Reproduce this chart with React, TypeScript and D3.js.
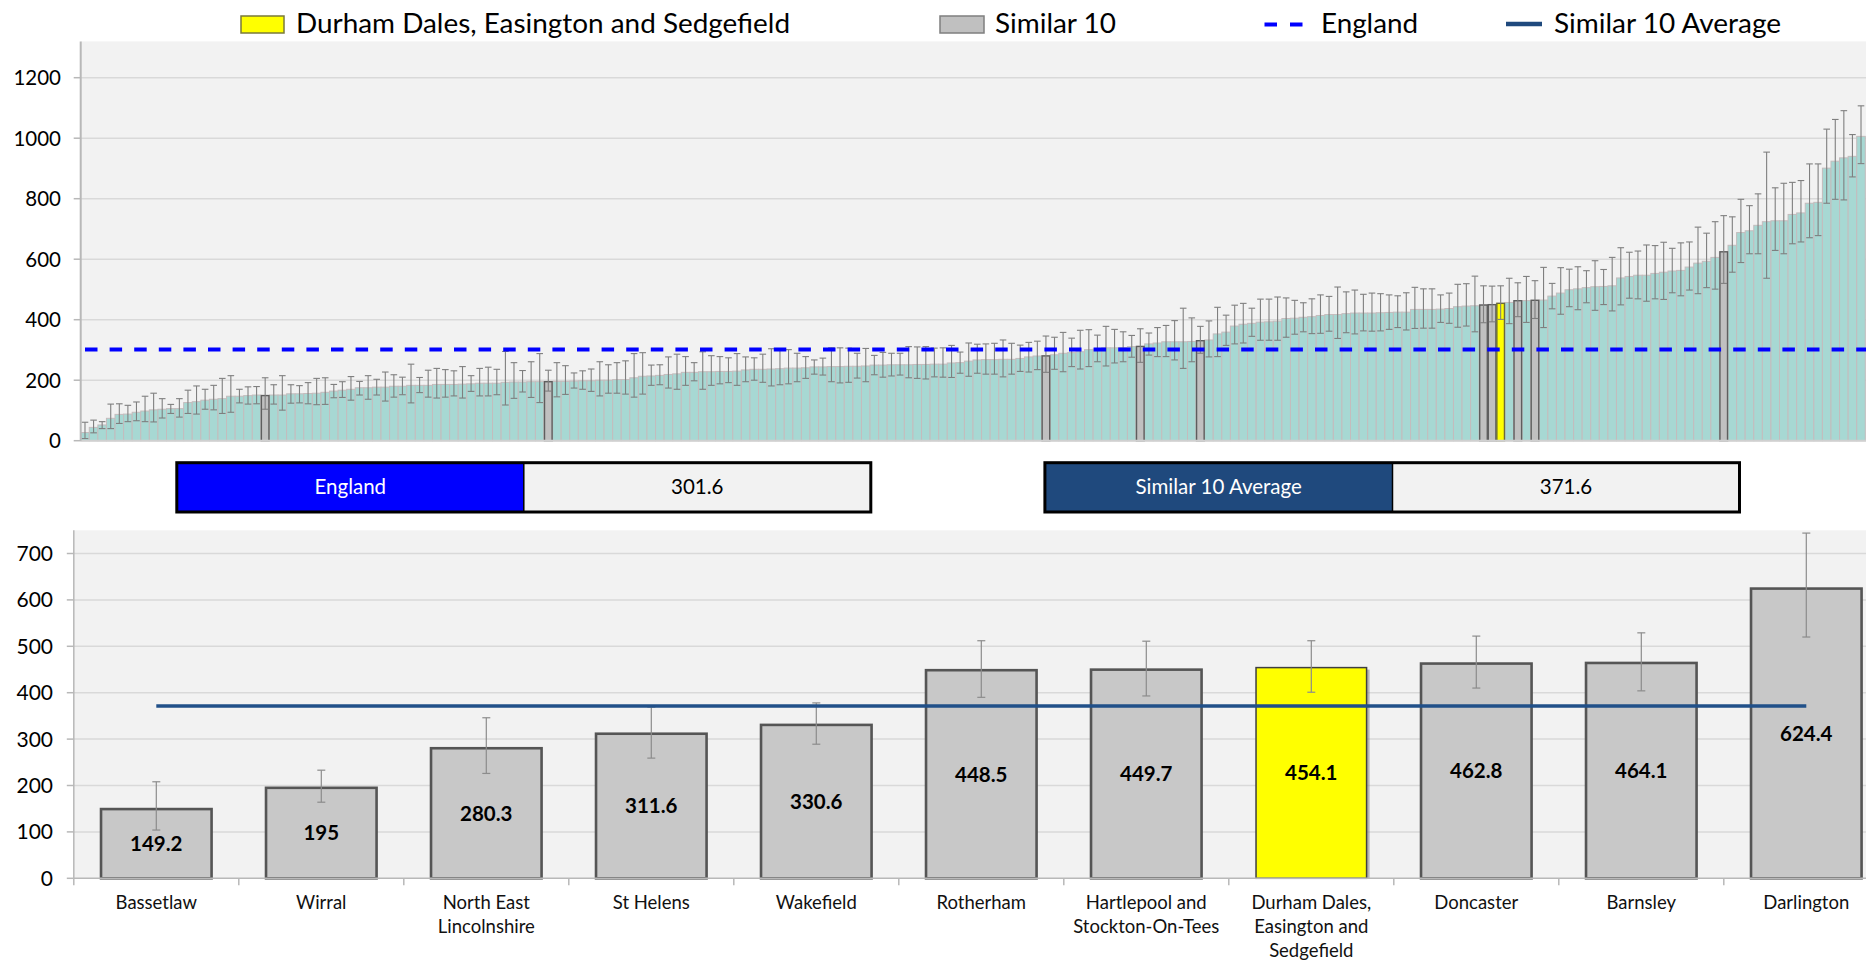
import * as d3 from "d3";

const W = 1866;
const H = 963;
const FONT = "Lato, 'Open Sans', sans-serif";

// all areas in England, sorted ascending (rate, lower CI, upper CI)
const areaValues = [
  27, 44, 52, 74, 87, 88, 94, 98, 102, 104, 106, 106, 126, 129, 134, 137, 139, 147, 147, 149,
  151, 149.2, 151, 151, 155, 155, 156, 157, 160, 164, 167, 170, 175, 175, 177, 177, 180, 180, 183, 183,
  183, 186, 186, 186, 187, 188, 190, 190, 190, 193, 194, 194, 195, 195, 195, 196, 196, 197, 198, 198,
  200, 200, 202, 202, 208, 213, 214, 216, 219, 221, 226, 226, 228, 228, 229, 229, 230, 234, 236, 236,
  237, 238, 240, 240, 241, 244, 244, 245, 245, 246, 246, 247, 250, 250, 251, 251, 251, 252, 252, 253,
  253, 257, 258, 263, 267, 268, 268, 269, 269, 272, 277, 280, 280.3, 284, 289, 291, 294, 301, 303, 307,
  307, 308, 311, 311.6, 320, 323, 327, 327, 327, 328, 330.6, 333, 353, 359, 379, 385, 388, 392, 393, 395,
  404, 405, 408, 410, 414, 417, 417, 420, 422, 422, 422, 423, 424, 425, 425, 434, 434, 434, 435, 437,
  443, 445, 446, 448.5, 449.7, 454.1, 457, 462.8, 463, 464.1, 465, 478, 488, 499, 502, 506, 509, 510, 512, 538,
  543, 547, 547, 553, 557, 561, 563, 574, 587, 593, 606, 624.4, 646, 688, 694, 712, 724, 727, 727, 748,
  753, 785, 788, 901, 924, 935, 940, 1006,
];
const areaLower = [
  7, 26, 40, 40, 57, 63, 66, 63, 62, 75, 90, 78, 90, 88, 104, 102, 90, 94, 125, 121,
  122, 104, 121, 101, 124, 125, 122, 119, 120, 142, 143, 134, 151, 137, 151, 131, 144, 152, 125, 159,
  144, 141, 144, 148, 141, 163, 148, 148, 152, 118, 140, 161, 143, 126, 164, 145, 153, 174, 170, 163,
  148, 157, 157, 154, 144, 154, 183, 185, 174, 170, 183, 198, 170, 183, 188, 192, 183, 195, 200, 193,
  181, 185, 188, 195, 206, 220, 217, 195, 191, 193, 207, 195, 218, 210, 214, 217, 208, 206, 204, 211,
  210, 209, 223, 213, 223, 220, 220, 211, 220, 229, 227, 235, 226, 236, 228, 245, 237, 245, 261, 247,
  257, 261, 276, 259, 283, 278, 278, 267, 239, 261, 289, 277, 278, 315, 320, 323, 345, 332, 332, 332,
  342, 352, 360, 354, 355, 362, 338, 357, 353, 363, 362, 363, 368, 374, 366, 371, 372, 372, 391, 388,
  375, 379, 360, 390, 393, 401, 387, 410, 391, 404, 374, 436, 418, 443, 433, 456, 431, 450, 429, 449,
  471, 469, 461, 469, 467, 489, 479, 498, 486, 506, 501, 520, 557, 589, 618, 618, 537, 629, 618, 651,
  657, 671, 678, 785, 798, 796, 872, 916,
];
const areaUpper = [
  61, 68, 63, 121, 122, 117, 128, 147, 157, 139, 120, 139, 167, 181, 170, 183, 206, 215, 170, 178,
  179, 208, 185, 215, 185, 182, 192, 206, 208, 186, 195, 212, 196, 215, 203, 227, 218, 210, 253, 209,
  233, 239, 235, 231, 245, 215, 239, 243, 236, 295, 258, 232, 261, 288, 233, 258, 248, 224, 231, 237,
  261, 251, 258, 264, 288, 291, 250, 251, 277, 286, 278, 258, 294, 281, 278, 274, 288, 277, 274, 286,
  304, 303, 301, 289, 278, 267, 273, 307, 307, 306, 289, 305, 282, 292, 289, 289, 311, 310, 311, 306,
  307, 315, 293, 323, 319, 320, 322, 333, 322, 316, 325, 329, 346, 342, 358, 339, 365, 367, 349, 378,
  368, 360, 348, 370, 356, 374, 381, 397, 438, 406, 378, 396, 441, 415, 448, 454, 438, 468, 468, 475,
  472, 464, 456, 469, 482, 477, 508, 492, 498, 484, 488, 486, 482, 479, 489, 507, 502, 502, 482, 488,
  517, 519, 544, 512, 511, 512, 537, 522, 543, 529, 573, 520, 572, 567, 575, 562, 595, 566, 606, 638,
  623, 627, 647, 645, 656, 636, 654, 657, 706, 686, 724, 744, 740, 798, 777, 816, 954, 836, 851, 854,
  860, 915, 915, 1030, 1062, 1091, 1012, 1107,
];

// the similar 10 areas plus the selected area
const similarNames = [
  "Bassetlaw",
  "Wirral",
  "North East Lincolnshire",
  "St Helens",
  "Wakefield",
  "Rotherham",
  "Hartlepool and Stockton-On-Tees",
  "Durham Dales, Easington and Sedgefield",
  "Doncaster",
  "Barnsley",
  "Darlington",
];
const similarLabelLines = [
  ["Bassetlaw"],
  ["Wirral"],
  ["North East", "Lincolnshire"],
  ["St Helens"],
  ["Wakefield"],
  ["Rotherham"],
  ["Hartlepool and", "Stockton-On-Tees"],
  ["Durham Dales,", "Easington and", "Sedgefield"],
  ["Doncaster"],
  ["Barnsley"],
  ["Darlington"],
];
const similarValues = [149.2, 195, 280.3, 311.6, 330.6, 448.5, 449.7, 454.1, 462.8, 464.1, 624.4];
const similarLower = [104, 164, 226, 259, 289, 390, 393, 401, 410, 404, 520];
const similarUpper = [208, 233, 346, 369, 378, 512, 511, 512, 522, 529, 744];
const similarRank = [21, 54, 112, 123, 130, 163, 164, 165, 167, 169, 191];
const selectedName = "Durham Dales, Easington and Sedgefield";

const englandValue = 301.6;
const similarAverage = 371.6;

const topTicks = [0, 200, 400, 600, 800, 1000, 1200];
const bottomTicks = [0, 100, 200, 300, 400, 500, 600, 700];

const TEAL = "#a7d8d3";
const GREY = "#c0c0c0";
const YELLOW = "#ffff00";
const BLUE = "#0000ff";
const NAVY = "#1f497d";

export default function App() {
  const n = areaValues.length;
  const xTop = d3.scaleBand<number>().domain(d3.range(n)).range([80.7, 1865.3]);
  const yTop = d3.scaleLinear().domain([0, 1320]).range([440.7, 41.4]);
  const bw = xTop.bandwidth();

  const xBot = d3
    .scaleBand<string>()
    .domain(similarNames)
    .range([73.8, 1888.8])
    .paddingInner(0.33)
    .paddingOuter(0.165);
  const yBot = d3.scaleLinear().domain([0, 750]).range([878.3, 530.3]);
  const bbw = xBot.bandwidth();
  const step = xBot.step();

  const topLeft = 80.7;
  const botLeft = 73.8;

  return (
    <svg
      width={W}
      height={H}
      style={{ position: "absolute", left: 0, top: 0, display: "block" }}
      fontFamily={FONT}
    >
      <rect width={W} height={H} fill="#fff" />

      {/* legend */}
      <g fontSize={26} fill="#000">
        <rect x={241} y={16} width={43} height={17} fill={YELLOW} stroke="#7a7a3a" strokeWidth={1.5} />
        <text x={296} y={33} textLength={494} lengthAdjust="spacingAndGlyphs">
          {selectedName}
        </text>
        <rect x={940} y={16} width={44} height={17} fill={GREY} stroke="#7f7f7f" strokeWidth={1.5} />
        <text x={995} y={33} textLength={121} lengthAdjust="spacingAndGlyphs">
          Similar 10
        </text>
        <line x1={1264.5} x2={1303} y1={24.5} y2={24.5} stroke={BLUE} strokeWidth={4} strokeDasharray="12.5 13" />
        <text x={1321} y={33} textLength={97} lengthAdjust="spacingAndGlyphs">
          England
        </text>
        <line x1={1506} x2={1542} y1={24} y2={24} stroke={NAVY} strokeWidth={4.5} />
        <text x={1554} y={33} textLength={227} lengthAdjust="spacingAndGlyphs">
          Similar 10 Average
        </text>
      </g>

      {/* top chart: all areas */}
      <rect
        x={topLeft}
        y={yTop(1320)}
        width={W - topLeft}
        height={yTop(0) - yTop(1320)}
        fill="#f2f2f2"
      />
      {topTicks
        .filter((t) => t > 0)
        .map((t) => (
          <line key={t} x1={topLeft} x2={W} y1={yTop(t)} y2={yTop(t)} stroke="#d9d9d9" strokeWidth={1.5} />
        ))}
      {areaValues.map((v, i) => (
        <rect
          key={i}
          x={xTop(i)}
          y={yTop(v)}
          width={bw}
          height={yTop(0) - yTop(v)}
          fill={TEAL}
          stroke="#c4bcbd"
          strokeWidth={1}
        />
      ))}
      {similarRank.map((r, k) => (
        <rect
          key={r}
          x={xTop(r)! + 0.5}
          y={yTop(similarValues[k])}
          width={bw - 1}
          height={yTop(0) - yTop(similarValues[k])}
          fill={similarNames[k] === selectedName ? YELLOW : GREY}
          stroke={similarNames[k] === selectedName ? "#6b6b3a" : "#5e5e5e"}
          strokeWidth={1.4}
        />
      ))}
      {areaValues.map((v, i) => {
        const cx = xTop(i)! + bw / 2;
        return (
          <g key={i} stroke="#7f7f7f" strokeWidth={1.1}>
            <line x1={cx} x2={cx} y1={yTop(areaLower[i])} y2={yTop(areaUpper[i])} />
            <line x1={cx - 3.3} x2={cx + 3.3} y1={yTop(areaUpper[i])} y2={yTop(areaUpper[i])} />
            <line x1={cx - 3.3} x2={cx + 3.3} y1={yTop(areaLower[i])} y2={yTop(areaLower[i])} />
          </g>
        );
      })}
      <line
        x1={85}
        x2={W}
        y1={yTop(englandValue)}
        y2={yTop(englandValue)}
        stroke={BLUE}
        strokeWidth={4}
        strokeDasharray="12.5 12.1"
      />
      <line x1={topLeft} x2={W} y1={yTop(0)} y2={yTop(0)} stroke="#d0d0d0" strokeWidth={2} />
      <line x1={topLeft} x2={topLeft} y1={yTop(1320)} y2={yTop(0)} stroke="#b8b8b8" strokeWidth={2} />
      {topTicks.map((t) => (
        <g key={t}>
          <line x1={topLeft - 7} x2={topLeft} y1={yTop(t)} y2={yTop(t)} stroke="#b8b8b8" strokeWidth={1.5} />
          <text x={61} y={yTop(t)} dy="0.36em" textAnchor="end" fontSize={20.5} fill="#000">
            {t}
          </text>
        </g>
      ))}

      {/* summary boxes */}
      <g fontSize={20.5}>
        <rect x={176.8} y={462.7} width={347} height={49.3} fill={BLUE} />
        <rect x={523.8} y={462.7} width={347} height={49.3} fill="#f2f2f2" />
        <rect x={176.8} y={462.7} width={694} height={49.3} fill="none" stroke="#000" strokeWidth={3} />
        <line x1={523.8} x2={523.8} y1={462.7} y2={512} stroke="#000" strokeWidth={1.5} />
        <text x={350.3} y={494} textAnchor="middle" fill="#fff">
          England
        </text>
        <text x={697.3} y={494} textAnchor="middle" fill="#000">
          {englandValue.toFixed(1)}
        </text>

        <rect x={1044.9} y={462.7} width={347.6} height={49.3} fill={NAVY} />
        <rect x={1392.5} y={462.7} width={347} height={49.3} fill="#f2f2f2" />
        <rect x={1044.9} y={462.7} width={694.6} height={49.3} fill="none" stroke="#000" strokeWidth={3} />
        <line x1={1392.5} x2={1392.5} y1={462.7} y2={512} stroke="#000" strokeWidth={1.5} />
        <text x={1218.7} y={494} textAnchor="middle" fill="#fff">
          Similar 10 Average
        </text>
        <text x={1566} y={494} textAnchor="middle" fill="#000">
          {similarAverage.toFixed(1)}
        </text>
      </g>

      {/* bottom chart: similar 10 */}
      <rect x={botLeft} y={yBot(750)} width={W - botLeft} height={yBot(0) - yBot(750)} fill="#f2f2f2" />
      {bottomTicks
        .filter((t) => t > 0)
        .map((t) => (
          <line key={t} x1={botLeft} x2={W} y1={yBot(t)} y2={yBot(t)} stroke="#d9d9d9" strokeWidth={1.5} />
        ))}
      {similarNames.map((name, k) => {
        const sel = name === selectedName;
        return (
          <g key={name}>
            {sel ? (
              <rect
                x={xBot(name)! + 3}
                y={yBot(similarValues[k]) + 2}
                width={bbw}
                height={yBot(0) - yBot(similarValues[k]) - 2}
                fill="#8a8a8a"
                opacity={0.6}
              />
            ) : null}
            <rect
              x={xBot(name)}
              y={yBot(similarValues[k])}
              width={bbw}
              height={yBot(0) - yBot(similarValues[k])}
              fill={sel ? YELLOW : "#c8c8c8"}
              stroke={sel ? "#3f3f3f" : "#555"}
              strokeWidth={sel ? 1.5 : 2.6}
            />
          </g>
        );
      })}
      {similarNames.map((name, k) => {
        const cx = xBot(name)! + bbw / 2;
        return (
          <g key={name} stroke="#8c8c8c" strokeWidth={1.2}>
            <line x1={cx} x2={cx} y1={yBot(similarLower[k])} y2={yBot(similarUpper[k])} />
            <line x1={cx - 4} x2={cx + 4} y1={yBot(similarUpper[k])} y2={yBot(similarUpper[k])} />
            <line x1={cx - 4} x2={cx + 4} y1={yBot(similarLower[k])} y2={yBot(similarLower[k])} />
          </g>
        );
      })}
      <line
        x1={xBot(similarNames[0])! + bbw / 2}
        x2={xBot(similarNames[similarNames.length - 1])! + bbw / 2}
        y1={yBot(similarAverage)}
        y2={yBot(similarAverage)}
        stroke="#215089"
        strokeWidth={3.5}
      />
      {similarNames.map((name, k) => (
        <text
          key={name}
          x={xBot(name)! + bbw / 2}
          y={(yBot(similarValues[k]) + yBot(0)) / 2}
          dy="0.36em"
          textAnchor="middle"
          fontSize={20.5}
          fontWeight={700}
          fill="#000"
        >
          {similarValues[k]}
        </text>
      ))}
      <line x1={botLeft} x2={W} y1={yBot(0)} y2={yBot(0)} stroke="#b8b8b8" strokeWidth={1.5} />
      <line x1={botLeft} x2={botLeft} y1={yBot(750)} y2={yBot(0)} stroke="#b8b8b8" strokeWidth={1.5} />
      {similarNames.map((name) => (
        <line
          key={name}
          x1={xBot(name)! - (step - bbw) / 2}
          x2={xBot(name)! - (step - bbw) / 2}
          y1={yBot(0)}
          y2={yBot(0) + 7}
          stroke="#b8b8b8"
          strokeWidth={1.5}
        />
      ))}
      {bottomTicks.map((t) => (
        <g key={t}>
          <line x1={botLeft - 7} x2={botLeft} y1={yBot(t)} y2={yBot(t)} stroke="#b8b8b8" strokeWidth={1.5} />
          <text x={53} y={yBot(t)} dy="0.36em" textAnchor="end" fontSize={21} fill="#000">
            {t}
          </text>
        </g>
      ))}
      {similarNames.map((name, k) => (
        <text key={name} textAnchor="middle" fontSize={18.5} fill="#111">
          {similarLabelLines[k].map((line, j) => (
            <tspan key={j} x={xBot(name)! + bbw / 2} y={909 + j * 24}>
              {line}
            </tspan>
          ))}
        </text>
      ))}
    </svg>
  );
}
